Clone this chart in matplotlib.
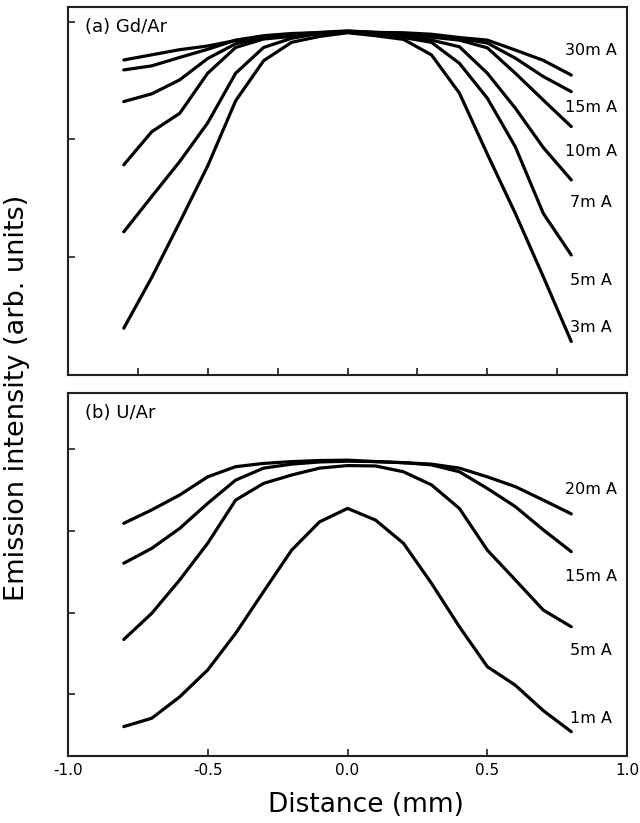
import matplotlib
matplotlib.use("Agg")
import matplotlib.pyplot as plt

# figure geometry (pixels of the 640x823 reference)
fig_w = 6.4
fig_h = 8.23
dpi = 100
line_color = "black"
spine_color = "#202020"
main_font = "DejaVu Sans"

# distance across the discharge (mm)
distance = [-0.8, -0.7, -0.6, -0.5, -0.4, -0.3, -0.2, -0.1, 0.0,
            0.1, 0.2, 0.3, 0.4, 0.5, 0.6, 0.7, 0.8]

# (a) Gd/Ar, arbitrary units
gd_labels = ["30m A", "15m A", "10m A", "7m A", "5m A", "3m A"]
gd_30ma = [85.6, 87.0, 88.4, 89.4, 90.9, 91.9, 92.6, 93.1, 93.5, 93.1, 93.0, 92.6, 91.7, 91.0, 88.3, 85.5, 81.5]
gd_15ma = [82.9, 84.0, 86.3, 88.5, 91.0, 92.2, 92.8, 93.0, 93.4, 93.1, 92.8, 92.2, 91.5, 90.2, 86.1, 81.1, 77.0]
gd_10ma = [74.3, 76.4, 80.2, 86.0, 90.0, 91.8, 92.3, 92.8, 93.3, 93.0, 92.6, 91.8, 91.0, 88.9, 82.0, 74.7, 67.5]
gd_7ma = [57.1, 66.1, 71.1, 82.0, 89.0, 91.3, 92.0, 92.8, 93.3, 92.8, 92.2, 91.0, 89.2, 82.0, 72.5, 61.8, 53.0]
gd_5ma = [38.9, 48.5, 58.0, 68.5, 82.0, 89.0, 91.5, 92.8, 93.2, 92.6, 91.7, 90.4, 84.7, 75.2, 62.0, 43.9, 32.6]
gd_3ma = [12.7, 26.5, 41.5, 56.8, 74.5, 85.4, 90.4, 92.0, 93.0, 92.2, 91.2, 87.0, 76.6, 60.0, 43.9, 26.7, 9.1]
gd_label_y = [88.3, 72.6, 60.6, 47.0, 25.8, 12.8]
gd_yticks = [32, 64, 96]

# (b) U/Ar, arbitrary units
u_labels = ["20m A", "15m A", "5m A", "1m A"]
u_20ma = [64.1, 67.8, 71.9, 76.9, 79.7, 80.6, 81.1, 81.4, 81.5, 81.1, 80.8, 80.4, 79.3, 76.9, 74.2, 70.5, 66.7]
u_15ma = [53.1, 57.2, 62.7, 69.6, 76.0, 79.3, 80.4, 81.0, 81.2, 81.1, 80.8, 80.2, 78.3, 73.7, 68.7, 62.3, 56.3]
u_5ma = [32.1, 39.3, 48.5, 58.6, 70.5, 75.1, 77.4, 79.3, 80.0, 79.9, 78.3, 74.7, 68.2, 56.7, 48.5, 40.2, 35.6]
u_1ma = [8.1, 10.4, 16.3, 23.7, 33.8, 45.3, 56.7, 64.5, 68.2, 65.0, 58.6, 47.6, 35.6, 24.6, 19.5, 12.5, 6.7]
u_label_y = [73.3, 49.4, 29.2, 10.4]
u_yticks = [17, 39.5, 62, 84.5]

x_ticks_a = [-0.75, -0.5, -0.25, 0.0, 0.25, 0.5, 0.75]
x_ticks_b = [-1.0, -0.5, 0.0, 0.5, 1.0]
x_ticklabels_b = ["-1.0", "-0.5", "0.0", "0.5", "1.0"]


def style_axis(ax, yticks):
	ax.set_xlim(-1.0, 1.0)
	ax.set_ylim(0, 100)
	ax.set_yticks(yticks)
	ax.set_yticklabels([])
	ax.tick_params(direction="in", length=5, width=1.2, color=spine_color,
				   top=False, right=False)
	for s in ax.spines.values():
		s.set_linewidth(1.5)
		s.set_color(spine_color)


def draw_panel(ax, series, labels, label_y, title):
	for y in series:
		ax.plot(distance, y, color=line_color, lw=2.3, solid_capstyle="round")
	for lab, ly in zip(labels, label_y):
		ax.text(0.87, ly, lab, fontsize=11.5, fontname=main_font, ha="center", va="center")
	ax.text(0.03, 0.945, title, transform=ax.transAxes, fontsize=13,
			fontname=main_font, ha="left", va="center")


fig = plt.figure(figsize=(fig_w, fig_h), dpi=dpi)
ax_a = fig.add_axes([0.106, 0.5444, 0.874, 0.4471])
ax_b = fig.add_axes([0.106, 0.0814, 0.874, 0.4411])

draw_panel(ax_a, [gd_30ma, gd_15ma, gd_10ma, gd_7ma, gd_5ma, gd_3ma],
		   gd_labels, gd_label_y, "(a) Gd/Ar")
style_axis(ax_a, gd_yticks)
ax_a.set_xticks(x_ticks_a)
ax_a.set_xticklabels([])

draw_panel(ax_b, [u_20ma, u_15ma, u_5ma, u_1ma], u_labels, u_label_y, "(b) U/Ar")
style_axis(ax_b, u_yticks)
ax_b.set_xticks(x_ticks_b)
ax_b.set_xticklabels(x_ticklabels_b, fontsize=11, fontname=main_font)
ax_b.tick_params(axis="x", pad=5)

# axis titles as figure text (x title sits a bit right of centre in the original)
fig.text(0.572, 0.022, "Distance (mm)", fontsize=19, fontname=main_font,
		 ha="center", va="center")
fig.text(0.026, 0.517, "Emission intensity (arb. units)", rotation=90,
		 fontsize=19.5, fontname=main_font, ha="center", va="center")

fig.savefig("out.png", dpi=dpi, facecolor="white")
